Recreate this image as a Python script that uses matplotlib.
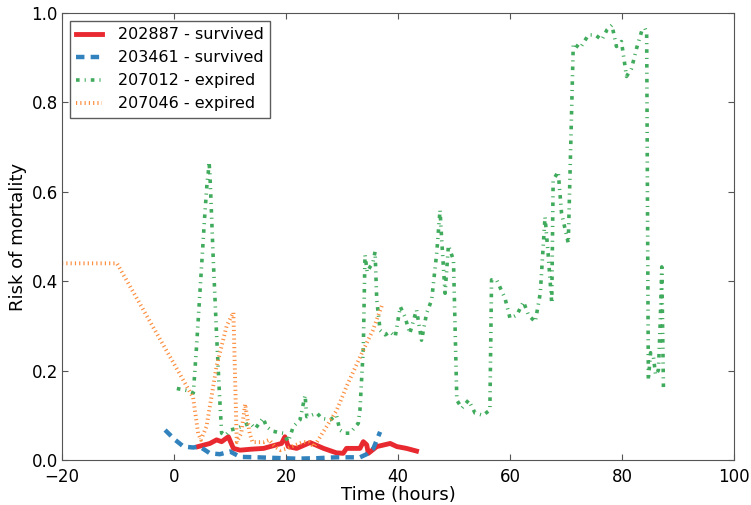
import matplotlib
matplotlib.use("Agg")
import matplotlib.pyplot as plt

# 202887 - survived
red_x = [4.3, 6.4, 7.6, 8.5, 9.7, 10.6, 11.8, 13.6, 16.0, 18.3, 19.2, 19.8, 20.4, 21.9, 24.3, 26.7,
         29.0, 30.2, 30.8, 33.2, 33.8, 34.4, 34.7, 36.2, 38.6, 39.8, 41.5, 43.3]
red_y = [0.030, 0.037, 0.045, 0.041, 0.052, 0.026, 0.022, 0.024, 0.026, 0.034, 0.037, 0.052, 0.030, 0.026,
         0.039, 0.026, 0.016, 0.015, 0.026, 0.026, 0.041, 0.034, 0.015, 0.030, 0.037, 0.030, 0.026, 0.020]

# 203461 - survived
blue_x = [-1.6, 0.2, 1.7, 3.4, 4.6, 6.4, 8.2, 10.0, 11.8, 14.8, 19.5, 21.9, 25.5, 29.0, 33.2, 34.4, 35.6, 36.8]
blue_y = [0.067, 0.045, 0.030, 0.028, 0.030, 0.015, 0.013, 0.019, 0.007, 0.006, 0.004, 0.003, 0.004,
          0.006, 0.006, 0.013, 0.026, 0.063]

# 207012 - expired
green_x = [0.5, 2.5, 3.45, 4.0, 4.5, 5.0, 5.5, 5.9, 6.1, 6.25, 6.4, 6.6, 7.0, 7.6, 8.1, 8.5, 9.2, 10.0,
           11.0, 12.0, 13.0, 13.6, 14.5, 15.9, 16.5, 17.5, 18.5, 19.5, 20.4, 21.3, 22.5, 23.4, 23.7,
           24.5, 25.5, 26.4, 27.9, 29.0, 29.6, 30.5, 31.4, 32.9, 33.2, 33.8, 34.1, 34.5, 35.0, 35.5,
           35.9, 36.2, 36.8, 37.7, 38.6, 39.5, 40.4, 41.25, 42.1, 43.3, 44.2, 45.1, 46.0, 46.9, 47.5,
           47.8, 48.4, 49.0, 49.9, 50.5, 51.4, 52.6, 53.75, 55.2, 56.4, 56.7, 57.6, 59.1, 60.0, 61.2,
           62.4, 63.3, 64.5, 65.4, 66.25, 66.8, 67.45, 67.7, 68.6, 69.2, 70.4, 71.3, 72.5, 74.0, 75.2,
           76.4, 77.3, 78.2, 79.0, 79.9, 80.8, 81.7, 82.6, 83.5, 84.1, 84.4, 84.7, 85.1, 85.6, 86.0,
           86.5, 86.8, 87.1, 87.4]
green_y = [0.16, 0.155, 0.15, 0.25, 0.35, 0.45, 0.55, 0.62, 0.64, 0.667, 0.64, 0.58, 0.45, 0.28, 0.15,
           0.06, 0.055, 0.067, 0.07, 0.075, 0.08, 0.083, 0.07, 0.094, 0.075, 0.065, 0.062, 0.06, 0.041,
           0.075, 0.09, 0.145, 0.097, 0.1, 0.105, 0.093, 0.09, 0.1, 0.067, 0.06, 0.06, 0.082, 0.112,
           0.25, 0.459, 0.42, 0.432, 0.44, 0.466, 0.358, 0.29, 0.28, 0.287, 0.276, 0.343, 0.32, 0.283,
           0.336, 0.268, 0.328, 0.358, 0.462, 0.559, 0.492, 0.373, 0.48, 0.447, 0.134, 0.116, 0.134,
           0.105, 0.1, 0.112, 0.403, 0.403, 0.362, 0.317, 0.324, 0.354, 0.324, 0.309, 0.373, 0.544,
           0.462, 0.35, 0.626, 0.645, 0.552, 0.485, 0.932, 0.921, 0.951, 0.951, 0.94, 0.962, 0.973,
           0.925, 0.936, 0.858, 0.876, 0.921, 0.959, 0.966, 0.955, 0.179, 0.24, 0.231, 0.19, 0.201,
           0.3, 0.432, 0.157]

# 207046 - expired
orange_x = [-20, -10.2, 3.4, 4.3, 4.8, 5.8, 7.6, 9.4, 10.6, 11.2, 12.0, 12.7, 13.5, 14.0, 16.0, 17.0,
            18.0, 19.0, 20.0, 21.0, 22.0, 23.0, 24.0, 25.0, 27.0, 29.0, 31.0, 33.8, 35.5, 37.1]
orange_y = [0.44, 0.44, 0.14, 0.06, 0.045, 0.075, 0.21, 0.30, 0.33, 0.04, 0.06, 0.125, 0.06, 0.04,
            0.04, 0.045, 0.03, 0.022, 0.025, 0.03, 0.035, 0.04, 0.04, 0.03, 0.07, 0.11, 0.17, 0.246,
            0.29, 0.345]

labels = ["202887 - survived", "203461 - survived", "207012 - expired", "207046 - expired"]

plt.rcParams['font.family'] = ['DejaVu Sans']
fig = plt.figure(figsize=(7.51, 5.05), dpi=100, facecolor='white')
ax = fig.add_axes([0.0826, 0.0891, 0.8948, 0.8852])

ax.plot(red_x, red_y, color='#e8292f', lw=3.5, linestyle='-', label=labels[0])
ax.plot(blue_x, blue_y, color='#3182bd', lw=3.2, linestyle=(0, (1.9, 1.4)), label=labels[1])
ax.plot(green_x, green_y, color='#41ab5d', lw=2.6, linestyle=(0, (1.0, 1.4, 0.3, 1.4)), label=labels[2])
ax.plot(orange_x, orange_y, color='#fd8d3c', lw=2.8, linestyle=(0, (0.3, 0.8)), label=labels[3])

ax.set_xlim(-20, 100)
ax.set_ylim(0, 1.0)
ax.set_xticks([-20, 0, 20, 40, 60, 80, 100])
ax.set_yticks([0.0, 0.2, 0.4, 0.6, 0.8, 1.0])
ax.tick_params(direction='in', top=True, right=True, length=4, labelsize=12, color='#555555')
ax.tick_params(axis='x', pad=6)
ax.tick_params(axis='y', pad=3)
for s in ax.spines.values():
    s.set_color('#555555')
ax.set_xlabel('Time (hours)', fontsize=13, labelpad=0)
ax.set_ylabel('Risk of mortality', fontsize=13, labelpad=3)

leg = ax.legend(loc='upper left', fontsize=11.5, frameon=True, fancybox=False,
                handlelength=1.6, handletextpad=1.0, borderaxespad=0.5, labelspacing=0.5)
leg.get_frame().set_edgecolor('#333333')
leg.get_frame().set_linewidth(1.0)

fig.savefig('out.png', dpi=100, facecolor='white')
